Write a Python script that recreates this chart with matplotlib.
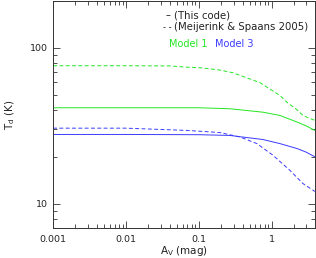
import matplotlib
matplotlib.use("Agg")
import matplotlib.pyplot as plt
from matplotlib.ticker import LogLocator, FixedLocator, FixedFormatter, NullFormatter

# Model 1, Meijerink & Spaans 2005 (dashed)
m1_ms_av = [0.001, 0.01, 0.04, 0.069, 0.104, 0.195, 0.294, 0.69, 1.30, 1.62, 2.23, 2.69, 3.3, 3.93]
m1_ms_td = [76.5, 76.5, 76.3, 74.9, 74.3, 71.8, 69.0, 59.7, 49.4, 44.7, 40.0, 36.8, 35.3, 34.2]
# Model 1, this code (solid)
m1_tc_av = [0.001, 0.01, 0.1, 0.195, 0.267, 0.76, 1.30, 2.23, 3.0, 3.93]
m1_tc_td = [41.2, 41.2, 41.2, 40.8, 40.6, 38.6, 36.8, 33.4, 31.5, 29.5]
# Model 3, Meijerink & Spaans 2005 (dashed)
m3_ms_av = [0.001, 0.01, 0.069, 0.195, 0.367, 0.628, 1.04, 1.78, 2.69, 3.93]
m3_ms_td = [30.5, 30.5, 29.5, 28.6, 26.8, 24.3, 20.5, 16.4, 13.5, 12.0]
# Model 3, this code (solid)
m3_tc_av = [0.001, 0.01, 0.1, 0.195, 0.267, 0.76, 1.30, 2.23, 3.0, 3.93]
m3_tc_td = [27.8, 27.8, 27.7, 27.5, 27.4, 25.8, 24.3, 22.6, 21.4, 20.0]

xticks = [0.001, 0.01, 0.1, 1]
xticklabels = ["0.001", "0.01", "0.1", "1"]
yticks = [10, 100]
yticklabels = ["10", "100"]

green = "#22e622"
blue = "#3a3aff"
txt = "#222222"

fig = plt.figure(figsize=(3.16, 2.58), dpi=100)
ax = fig.add_axes([0.168, 0.116, 0.829, 0.882])

ax.plot(m1_ms_av, m1_ms_td, color=green, lw=0.7, ls=(0, (4, 2.5)))
ax.plot(m1_tc_av, m1_tc_td, color=green, lw=0.7)
ax.plot(m3_ms_av, m3_ms_td, color=blue, lw=0.7, ls=(0, (4, 2.5)))
ax.plot(m3_tc_av, m3_tc_td, color=blue, lw=0.7)

ax.set_xscale("log")
ax.set_yscale("log")
ax.set_xlim(0.001, 3.95)
ax.set_ylim(7, 200)

ax.xaxis.set_major_locator(FixedLocator(xticks))
ax.xaxis.set_major_formatter(FixedFormatter(xticklabels))
ax.xaxis.set_minor_locator(LogLocator(base=10, subs=range(2, 10), numticks=20))
ax.xaxis.set_minor_formatter(NullFormatter())
ax.yaxis.set_major_locator(FixedLocator(yticks))
ax.yaxis.set_major_formatter(FixedFormatter(yticklabels))
ax.yaxis.set_minor_locator(LogLocator(base=10, subs=range(2, 10), numticks=20))
ax.yaxis.set_minor_formatter(NullFormatter())

ax.tick_params(which="both", direction="in", top=True, right=True,
               width=0.6, color="#333333", labelsize=6.8, labelcolor=txt)
ax.tick_params(which="major", length=5)
ax.tick_params(axis="x", which="major", pad=5)
ax.tick_params(axis="y", which="major", pad=4)
ax.tick_params(which="minor", length=3)
for s in ax.spines.values():
    s.set_linewidth(0.7)
    s.set_color("#333333")

ax.set_xlabel(r"A$_\mathrm{V}$ (mag)", fontsize=7.5, color=txt, labelpad=0)
ax.set_ylabel(r"T$_\mathrm{d}$ (K)", fontsize=7.5, color=txt, labelpad=9)

ax.text(0.428, 0.934, "\u2013", transform=ax.transAxes, fontsize=7, color=txt, va="center")
ax.text(0.462, 0.934, "(This code)", transform=ax.transAxes, fontsize=7.3, color=txt, va="center")
ax.text(0.418, 0.882, "- -", transform=ax.transAxes, fontsize=6, color=txt, va="center")
ax.text(0.462, 0.882, "(Meijerink & Spaans 2005)", transform=ax.transAxes, fontsize=7.3, color=txt, va="center")
ax.text(0.443, 0.811, "Model 1", transform=ax.transAxes, fontsize=7, color=green, va="center")
ax.text(0.618, 0.811, "Model 3", transform=ax.transAxes, fontsize=7, color=blue, va="center")

fig.savefig("out.png", dpi=100)
